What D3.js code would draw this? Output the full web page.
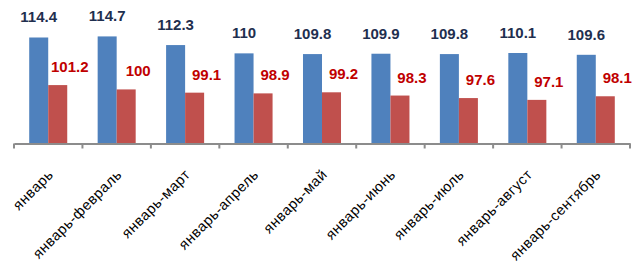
<!DOCTYPE html>
<html>
<head>
<meta charset="utf-8">
<script src="https://cdn.jsdelivr.net/npm/d3@7"></script>
<style>
  body { margin: 0; background: #fff; }
  svg { display: block; font-family: "Liberation Sans", Arial, sans-serif; }
</style>
</head>
<body>
<div id="chart"></div>
<script>
// Chart data
const categories = [
    'январь', 'январь-февраль', 'январь-март', 'январь-апрель', 'январь-май',
    'январь-июнь', 'январь-июль', 'январь-август', 'январь-сентябрь'
];
const seriesA = [114.4, 114.7, 112.3, 110, 109.8, 109.9, 109.8, 110.1, 109.6];
const seriesB = [101.2, 100, 99.1, 98.9, 99.2, 98.3, 97.6, 97.1, 98.1];
const seriesKeys = ['a', 'b'];

const width = 641;
const height = 264;
const axisY = 143.5;

const svg = d3.select('#chart')
    .append('svg')
    .attr('width', width)
    .attr('height', height);

// Scales
const x0 = d3.scaleBand()
    .domain(categories)
    .range([14, 630])
    .padding(0);

const x1 = d3.scaleBand()
    .domain(seriesKeys)
    .range([0, x0.bandwidth()])
    .paddingInner(0)
    .paddingOuter(0.8);

const y = d3.scaleLinear()
    .domain([85, 124.8])
    .range([axisY, 0]);

const rows = categories.map((c, i) => ({ cat: c, a: seriesA[i], b: seriesB[i] }));

// Bars
const groups = svg.selectAll('g.cat')
    .data(rows)
    .enter()
    .append('g')
    .attr('class', 'cat')
    .attr('transform', d => `translate(${x0(d.cat)},0)`);

groups.append('rect')
    .attr('x', x1('a'))
    .attr('y', d => y(d.a))
    .attr('width', x1.bandwidth())
    .attr('height', d => axisY - y(d.a))
    .attr('fill', '#4f81bd');

groups.append('rect')
    .attr('x', x1('b'))
    .attr('y', d => y(d.b))
    .attr('width', x1.bandwidth())
    .attr('height', d => axisY - y(d.b))
    .attr('fill', '#c0504d');

// Value labels
groups.append('text')
    .attr('x', x1('a') + x1.bandwidth() / 2)
    .attr('y', d => y(d.a) - 15)
    .attr('text-anchor', 'middle')
    .style('font-size', '15px')
    .style('font-weight', 'bold')
    .style('fill', '#1f2f4f')
    .text(d => d.a);

groups.append('text')
    .attr('x', x1('b') + x1.bandwidth() / 2 + 12)
    .attr('y', d => y(d.b) - 13)
    .attr('text-anchor', 'middle')
    .style('font-size', '15px')
    .style('font-weight', 'bold')
    .style('fill', '#c00000')
    .text(d => d.b);

// X axis
const axis = svg.append('g')
    .attr('transform', `translate(0,${axisY})`)
    .call(d3.axisBottom(x0).tickSize(0).tickFormat(''));

axis.select('.domain')
    .attr('stroke', '#8c8c8c')
    .attr('stroke-width', 2);

// tick marks at category boundaries
const bounds = categories.map(c => x0(c)).concat([x0.range()[1]]);
axis.selectAll('line.bound')
    .data(bounds)
    .enter()
    .append('line')
    .attr('class', 'bound')
    .attr('x1', d => d)
    .attr('x2', d => d)
    .attr('y1', 0)
    .attr('y2', 5)
    .attr('stroke', '#8c8c8c')
    .attr('stroke-width', 2);

// rotated category labels
axis.selectAll('text.cat')
    .data(categories)
    .enter()
    .append('text')
    .attr('class', 'cat')
    .attr('text-anchor', 'end')
    .attr('transform', d => `translate(${x0(d) + x0.bandwidth() / 2 + 6},${32}) rotate(-45)`)
    .style('font-size', '14.5px')
    .style('letter-spacing', '0.5px')
    .style('fill', '#000')
    .text(d => d);
</script>
</body>
</html>
